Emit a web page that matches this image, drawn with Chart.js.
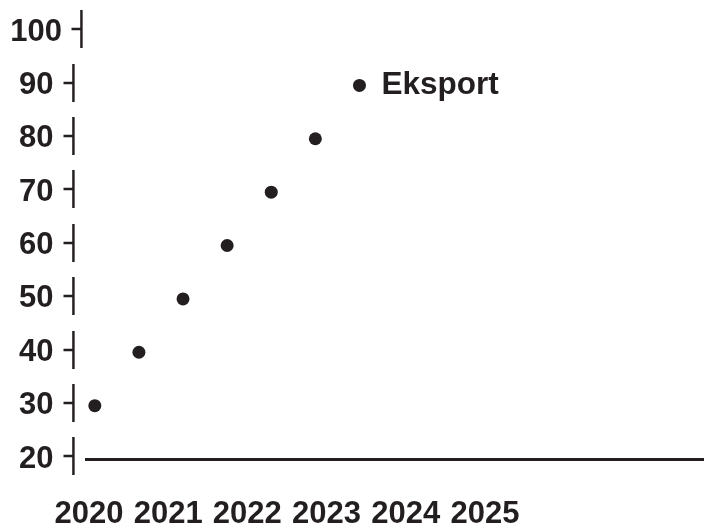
<!DOCTYPE html>
<html>
<head>
<meta charset="utf-8">
<script src="https://cdn.jsdelivr.net/npm/chart.js@4/dist/chart.umd.min.js"></script>
<style>
html, body { margin: 0; padding: 0; background: #fff; }
</style>
</head>
<body>
<canvas id="myChart" width="710" height="524"></canvas>
<script>
// data
const years       = ['2020', '2021', '2022', '2023', '2024', '2025'];
const eksport     = [30, 40, 50, 60, 70, 80, 90];
const yTicks      = [20, 30, 40, 50, 60, 70, 80, 90, 100];
const seriesLabel = 'Eksport';

const ink      = '#231f20';
const font     = { family: '"Liberation Sans", Arial, sans-serif', size: 31, weight: 'bold' };
const markFont = { family: '"DejaVu Sans", sans-serif', size: 32, weight: 'bold' };

/* label "Eksport" next to the last point */
const endLabel = {
    id: 'endLabel',
    afterDatasetsDraw(chart) {
        const meta = chart.getDatasetMeta(0);
        const last = meta.data[meta.data.length - 1];
        const ctx = chart.ctx;
        ctx.save();
        ctx.font = 'bold 31.5px ' + font.family;
        ctx.fillStyle = ink;
        ctx.textBaseline = 'middle';
        ctx.fillText(chart.data.datasets[0].label, last.x + 22, last.y);
        ctx.restore();
    }
};

/* same ticks for both y axes */
const setYTicks = s => { s.ticks = yTicks.map(v => ({ value: v })); };

let ctx = document.getElementById('myChart').getContext('2d');
let myChart = new Chart(ctx, {
    type: 'scatter',
    data: {
        datasets: [{
            label: seriesLabel,
            data: eksport.map((v, i) => ({ x: i, y: v })),
            xAxisID: 'x',
            yAxisID: 'y',
            pointRadius: 6.5,
            pointHoverRadius: 6.5,
            backgroundColor: ink,
            borderWidth: 0
        }]
    },
    options: {
        responsive: false,
        animation: false,
        devicePixelRatio: 1,
        layout: { padding: { top: 32, left: 10, right: 0, bottom: 0 } },
        plugins: {
            legend: { display: false },
            tooltip: { enabled: false }
        },
        scales: {
            x: {
                type: 'linear',
                display: false,
                min: -0.2,
                max: 13.8
            },
            xYears: {
                type: 'linear',
                position: 'bottom',
                min: -0.0375,
                max: 7.76,
                afterBuildTicks: s => { s.ticks = years.map((y, i) => ({ value: i })); },
                afterFit: s => { s.height = 65; },
                grid: { display: false, drawTicks: false },
                border: { display: true, color: ink, width: 3 },
                ticks: {
                    padding: 37,
                    maxRotation: 0,
                    autoSkip: false,
                    color: ink,
                    font: font,
                    callback: v => years[v]
                }
            },
            // numbers
            y: {
                min: 20,
                max: 100,
                weight: 1,
                afterBuildTicks: setYTicks,
                afterFit: s => { s.width = 52; },
                grid: { display: false, drawTicks: false },
                border: { display: false },
                ticks: {
                    padding: 0,
                    crossAlign: 'center',
                    color: ink,
                    font: font,
                    callback: v => String(v)
                }
            },
            // the little "┤" marks, the 100 one sits a bit to the right
            yMark: {
                position: 'left',
                min: 20,
                max: 100,
                weight: 0,
                afterBuildTicks: setYTicks,
                afterFit: s => { s.width = 24; },
                grid: { display: false, drawTicks: false },
                border: { display: false },
                ticks: {
                    padding: -5,
                    crossAlign: 'center',
                    color: ink,
                    font: markFont,
                    callback: v => (v === 100 ? '\u2002┤' : '┤')
                }
            }
        }
    },
    plugins: [endLabel]
});
</script>
</body>
</html>
